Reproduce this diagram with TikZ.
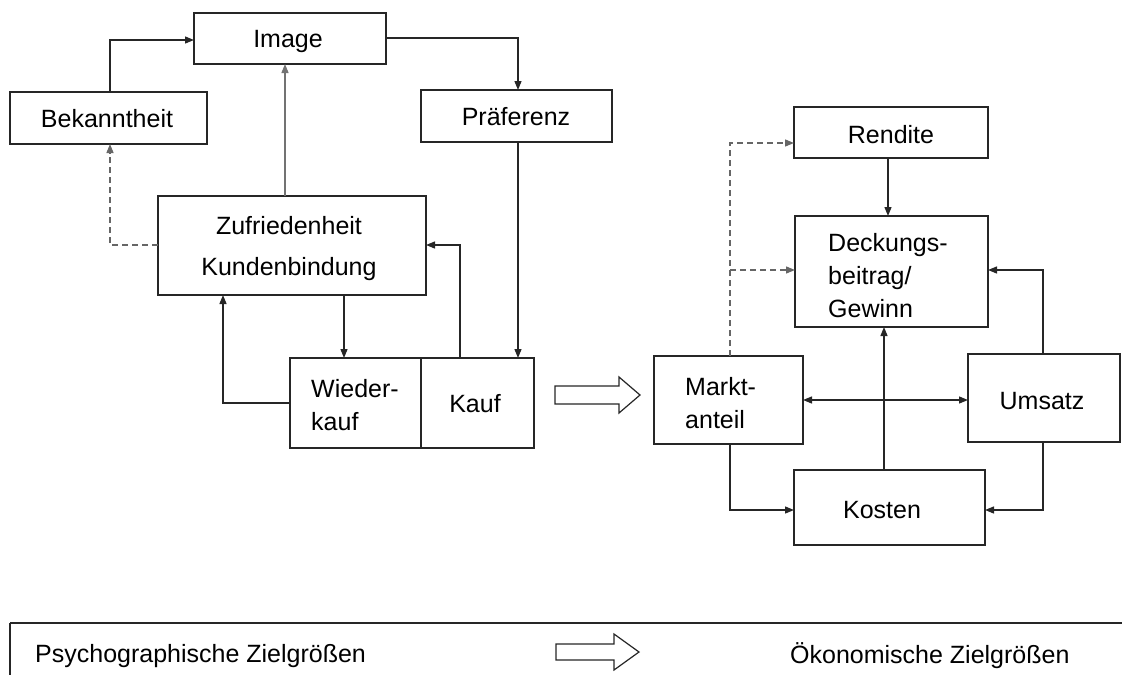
\documentclass[tikz,border=0pt]{standalone}
\usepackage{fontspec}
\setmainfont{Liberation Sans}
\usetikzlibrary{arrows.meta}
\begin{document}
\begin{tikzpicture}[x=1pt,y=-1pt,
  box/.style={draw=black!85,line width=1.3pt},
  lbl/.style={font=\fontsize{25}{33}\selectfont,inner sep=0pt},
  con/.style={draw=black!85,line width=1.3pt,-{Triangle[length=9pt,width=7pt]}},
  gcon/.style={con,draw=black!55},
  dcon/.style={con,draw=black!60,dash pattern=on 6pt off 4pt},
  hollow/.style={draw=black!85,line width=1.2pt,fill=white}]
\useasboundingbox (0,0) rectangle (1122,675);
% boxes
\draw[box] (194,13) rectangle (386,64);
\node[lbl] (image) at (288,41) {Image};
\coordinate (imgW) at (194,40); \coordinate (imgE) at (386,38); \coordinate (imgS) at (285,64);
\draw[box] (10,92) rectangle (207,144);
\node[lbl] (bek) at (107,119) {Bekanntheit};
\coordinate (bekN) at (110,92); \coordinate (bekS) at (110,144);
\draw[box] (421,90) rectangle (612,142);
\node[lbl] (pref) at (516,117) {Präferenz};
\coordinate (prefN) at (518,90); \coordinate (prefS) at (518,142);
\draw[box] (158,196) rectangle (426,295);
\node[lbl,align=center] (zuf) at (289,249) {Zufriedenheit\\[8pt]Kundenbindung};
\coordinate (zufN) at (285,196); \coordinate (zufW) at (158,245); \coordinate (zufE) at (426,245);
\coordinate (zufS1) at (344,295); \coordinate (zufS2) at (223,295);
\draw[box] (290,358) rectangle (421,448);
\node[lbl,align=left,anchor=west] (wk) at (311,405) {Wieder-\\kauf};
\draw[box] (421,358) rectangle (534,448);
\node[lbl] (kauf) at (475,404) {Kauf};
\coordinate (wkN) at (344,358); \coordinate (wkW) at (290,403);
\coordinate (kaufN1) at (460,358); \coordinate (kaufN2) at (518,358);
% hollow arrow middle
\draw[hollow] (555,386) -- (619,386) -- (619,377) -- (640,395) -- (619,413) -- (619,404) -- (555,404) -- cycle;
% right side
\draw[box] (794,107) rectangle (988,158);
\node[lbl] (rend) at (891,135) {Rendite};
\coordinate (rendW) at (794,143); \coordinate (rendS) at (888,158);
\draw[box] (795,216) rectangle (988,327);
\node[lbl,align=left,anchor=west] (deck) at (828,276) {Deckungs-\\beitrag/\\Gewinn};
\coordinate (deckN) at (888,216); \coordinate (deckW) at (795,270); \coordinate (deckE) at (988,270); \coordinate (deckS) at (884,327);
\draw[box] (654,356) rectangle (803,444);
\node[lbl,align=left,anchor=west] (markt) at (685,403) {Markt-\\anteil};
\coordinate (marktN) at (730,356); \coordinate (marktE) at (803,400); \coordinate (marktS) at (730,444);
\draw[box] (968,354) rectangle (1120,442);
\node[lbl] (ums) at (1042,401) {Umsatz};
\coordinate (umsN) at (1043,354); \coordinate (umsW) at (968,400); \coordinate (umsS) at (1043,442);
\draw[box] (794,470) rectangle (985,545);
\node[lbl] (kost) at (882,510) {Kosten};
\coordinate (kostN) at (884,470); \coordinate (kostW) at (794,510); \coordinate (kostE) at (985,510);
% connectors left
\draw[con] (bekN) |- (imgW);
\draw[con] (imgE) -| (prefN);
\draw[gcon] (zufN) -- (imgS);
\draw[dcon] (zufW) -| (bekS);
\draw[con] (prefS) -- (kaufN2);
\draw[con] (kaufN1) |- (zufE);
\draw[con] (zufS1) -- (wkN);
\draw[con] (wkW) -| (zufS2);
% connectors right
\coordinate (dj) at (730,270);
\draw[dcon] (marktN) |- (rendW);
\draw[dcon] (dj) -- (deckW);
\draw[con] (rendS) -- (deckN);
\draw[con] (umsN) |- (deckE);
\draw[draw=black!85,line width=1.3pt,{Triangle[length=9pt,width=7pt]}-{Triangle[length=9pt,width=7pt]}] (marktE) -- (umsW);
\draw[con] (kostN) -- (deckS);
\draw[con] (marktS) |- (kostW);
\draw[con] (umsS) |- (kostE);
% legend
\draw[box] (10,623) -- (1122,623);
\draw[box] (10,623) -- (10,675);
\node[lbl,anchor=west] (psy) at (35,656) {Psychographische Zielgrößen};
\node[lbl,anchor=west] (oek) at (790,656) {Ökonomische Zielgrößen};
\draw[hollow] (556,644) -- (614,644) -- (614,634) -- (639,652) -- (614,670) -- (614,660) -- (556,660) -- cycle;
\end{tikzpicture}
\end{document}
